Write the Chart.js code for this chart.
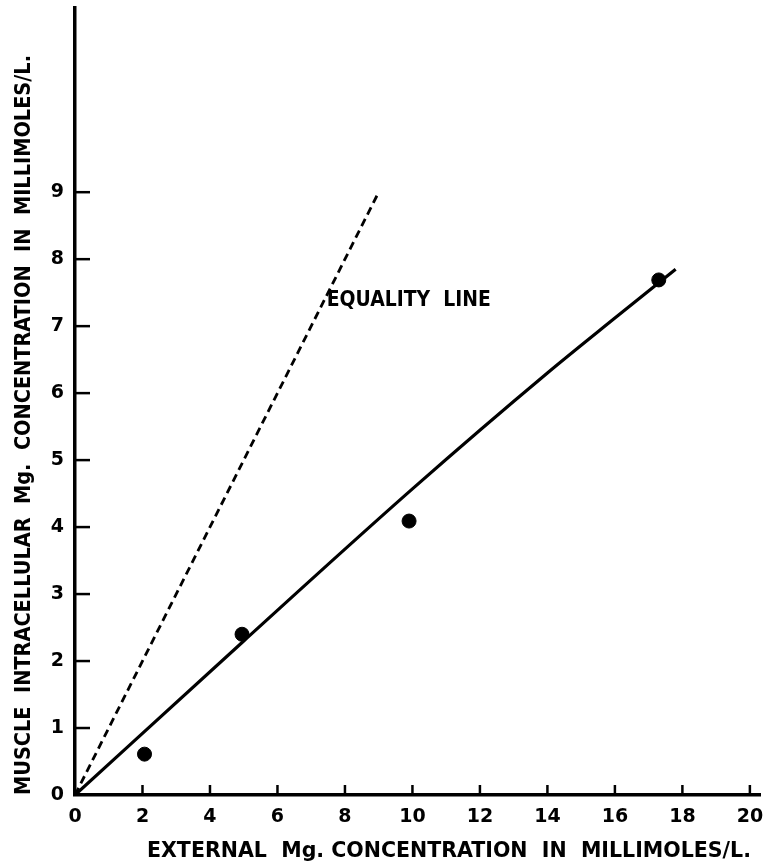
<!DOCTYPE html>
<html>
<head>
<meta charset="utf-8">
<script src="https://cdn.jsdelivr.net/npm/chart.js@4"></script>
<style>
html,body{margin:0;padding:0;background:#fff;}
#wrap{width:765px;height:863px;}
</style>
</head>
<body>
<div id="wrap"><canvas id="c"></canvas></div>
<script>
// Observed data points
const pointX = [2.06, 4.95, 9.9, 17.3];
const pointY = [0.61, 2.4, 4.09, 7.69];
// Fitted solid curve
const fitX = [0, 5, 10, 14, 16, 17.8];
const fitY = [0, 2.3, 4.57, 6.3, 7.12, 7.85];
// Equality line
const eqX = [0, 9];
const eqY = [0, 9];
// Tick labels
const xTicks = [0, 2, 4, 6, 8, 10, 12, 14, 16, 18, 20];
const yTicks = [0, 1, 2, 3, 4, 5, 6, 7, 8, 9];
const xTitle = 'EXTERNAL  Mg. CONCENTRATION  IN  MILLIMOLES/L.';
const yTitle = 'MUSCLE  INTRACELLULAR  Mg.  CONCENTRATION  IN  MILLIMOLES/L.';
const eqLabel = 'EQUALITY  LINE';

const TICKFONT = '"DejaVu Sans", sans-serif';
const TEXTFONT = '"Liberation Sans Narrow", "DejaVu Sans Condensed", sans-serif';

const toXY = (xs, ys) => xs.map((x, i) => ({x: x, y: ys[i]}));

// draw text stretched/compressed to a given width
function fitText(ctx, text, cx, cy, width, rot) {
  ctx.save();
  ctx.translate(cx, cy);
  if (rot) ctx.rotate(rot);
  const w = ctx.measureText(text).width;
  ctx.scale(width / w, 1);
  ctx.textAlign = 'center';
  ctx.textBaseline = 'middle';
  ctx.fillText(text, 0, 0);
  ctx.restore();
}

const decor = {
  id: 'decor',
  afterDatasetsDraw(chart) {
    const ctx = chart.ctx;
    const xs = chart.scales.x, ys = chart.scales.y;
    const ca = chart.chartArea;
    ctx.save();
    ctx.strokeStyle = '#000';
    ctx.fillStyle = '#000';
    ctx.lineWidth = 2.5;
    xTicks.forEach(v => {
      if (v === 0) return;
      const p = xs.getPixelForValue(v);
      ctx.beginPath(); ctx.moveTo(p, ca.bottom); ctx.lineTo(p, ca.bottom - 10); ctx.stroke();
    });
    yTicks.forEach(v => {
      if (v === 0) return;
      const p = ys.getPixelForValue(v);
      ctx.beginPath(); ctx.moveTo(ca.left, p); ctx.lineTo(ca.left + 15, p); ctx.stroke();
    });
    ctx.font = 'bold 22px ' + TEXTFONT;
    // equality label
    const ex = xs.getPixelForValue(7.46), ey = ys.getPixelForValue(7.39);
    fitText(ctx, eqLabel, ex + 82, ey, 164, 0);
    // x axis title
    fitText(ctx, xTitle, 449, 851, 604, 0);
    // y axis title
    fitText(ctx, yTitle, 24, 425, 740, -Math.PI / 2);
    ctx.restore();
  }
};

new Chart(document.getElementById('c'), {
  type: 'scatter',
  data: {
    datasets: [
      {
        label: 'Equality line',
        data: toXY(eqX, eqY),
        showLine: true,
        borderColor: '#000',
        borderWidth: 2.8,
        borderDash: [8, 5],
        pointRadius: 0,
        fill: false
      },
      {
        label: 'Fit',
        data: toXY(fitX, fitY),
        showLine: true,
        borderColor: '#000',
        borderWidth: 3.2,
        pointRadius: 0,
        cubicInterpolationMode: 'monotone',
        fill: false
      },
      {
        label: 'Observed',
        data: toXY(pointX, pointY),
        showLine: false,
        backgroundColor: '#000',
        borderColor: '#000',
        pointRadius: 7,
        pointHoverRadius: 7
      }
    ]
  },
  options: {
    responsive: true,
    maintainAspectRatio: false,
    animation: false,
    events: [],
    layout: { autoPadding: false, padding: { top: 8, right: 5, left: 0, bottom: 0 } },
    plugins: { legend: { display: false }, tooltip: { enabled: false } },
    scales: {
      x: {
        type: 'linear',
        min: 0, max: 20.3,
        afterBuildTicks: s => { s.ticks = xTicks.map(v => ({value: v})); },
        afterFit: s => { s.height = 68; s.paddingLeft = 0; s.paddingRight = 0; },
        grid: { display: false, drawTicks: false },
        border: { display: true, color: '#000', width: 3.5 },
        ticks: { color: '#000', padding: 11, font: { family: TICKFONT, size: 19, weight: 'bold' }, maxRotation: 0 },
        title: { display: false }
      },
      y: {
        type: 'linear',
        min: 0, max: 11.75,
        afterBuildTicks: s => { s.ticks = yTicks.map(v => ({value: v})); },
        afterFit: s => { s.width = 75; s.paddingTop = 0; s.paddingBottom = 0; },
        grid: { display: false, drawTicks: false },
        border: { display: true, color: '#000', width: 3.5 },
        ticks: { color: '#000', padding: 11, font: { family: TICKFONT, size: 19, weight: 'bold' } },
        title: { display: false }
      }
    }
  },
  plugins: [decor]
});
</script>
</body>
</html>
